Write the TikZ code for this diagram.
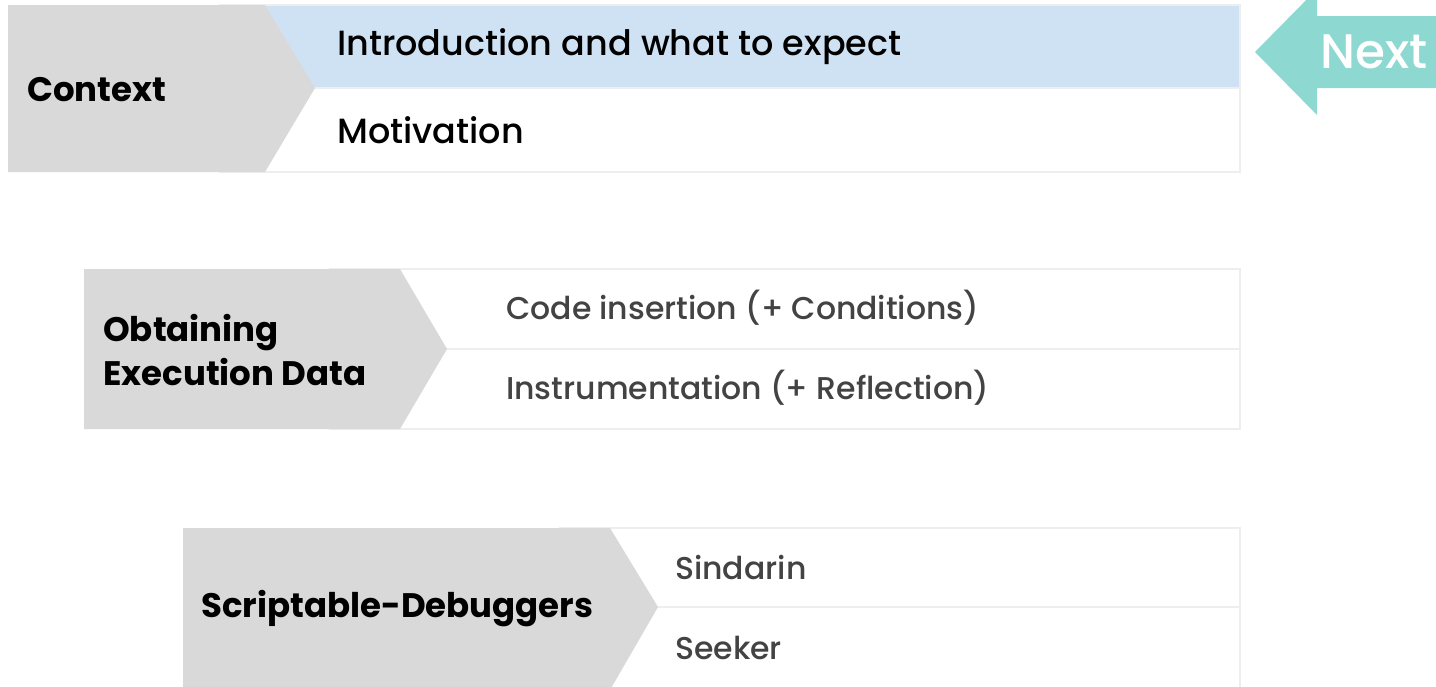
\documentclass[tikz,border=0pt]{standalone}
\usepackage{fontspec}
\setmainfont{Poppins}
\newfontfamily\pmed{Poppins Medium}
\newfontfamily\psemi{Poppins SemiBold}
\definecolor{chevgray}{HTML}{D9D9D9}
\definecolor{rowblue}{HTML}{CFE2F3}
\definecolor{rowline}{HTML}{EEEEEE}
\definecolor{nextteal}{HTML}{8ED8D2}
\definecolor{subgray}{HTML}{434343}
\tikzset{
  chev/.style={fill=chevgray},
  rowbox/.style={draw=rowline, line width=1.5pt, fill=white},
  lbl/.style={anchor=west, inner sep=0pt, font=\fontsize{34}{44}\selectfont\bfseries, text=black, align=left},
  itemA/.style={anchor=west, inner sep=0pt, font=\fontsize{35}{40}\selectfont\pmed, text=black},
  itemB/.style={anchor=west, inner sep=0pt, font=\fontsize{31.5}{40}\selectfont\pmed, text=subgray},
}
\begin{document}
\begin{tikzpicture}[x=1pt,y=-1pt]
\clip (0,0) rectangle (1436,686);
\fill[white] (0,0) rectangle (1436,686);
% block 1
\draw[rowbox, fill=rowblue] (220,5) rectangle (1240,88);
\draw[rowbox] (220,88) rectangle (1240,172);
\fill[chev] (8,5) -- (265,5) -- (315,88) -- (265,172) -- (8,172) -- cycle;
\node[lbl] (ctx) at (27,90) {Context};
\node[itemA] (intro) at (337,47) {Introduction and what to expect};
\node[itemA] (motiv) at (337,130) {Motivation};
% block 2
\draw[rowbox] (330,269) rectangle (1240,349);
\draw[rowbox] (330,349) rectangle (1240,429);
\fill[chev] (84,269) -- (400,269) -- (447,349) -- (400,429) -- (84,429) -- cycle;
\node[lbl] (obt) at (103,350) {Obtaining\\Execution Data};
\node[itemB] (code) at (506,308) {Code insertion (+ Conditions)};
\node[itemB] (instr) at (506,388) {Instrumentation (+ Reflection)};
% block 3
\draw[rowbox] (560,528) rectangle (1240,607);
\draw[rowbox] (560,607) rectangle (1240,690);
\fill[chev] (183,528) -- (610,528) -- (658,607) -- (610,690) -- (183,690) -- cycle;
\node[lbl] (scr) at (201,609) {Scriptable-Debuggers};
\node[itemB] (sind) at (675,568) {Sindarin};
\node[itemB] (seek) at (675,648) {Seeker};
% next arrow
\fill[nextteal] (1255,52) -- (1317,-11) -- (1317,16) -- (1440,16) -- (1440,88) -- (1317,88) -- (1317,115) -- cycle;
\node[anchor=west, inner sep=0pt, font=\fontsize{48.5}{56}\selectfont\pmed, text=white] (next) at (1320,52) {Next};
\end{tikzpicture}
\end{document}
